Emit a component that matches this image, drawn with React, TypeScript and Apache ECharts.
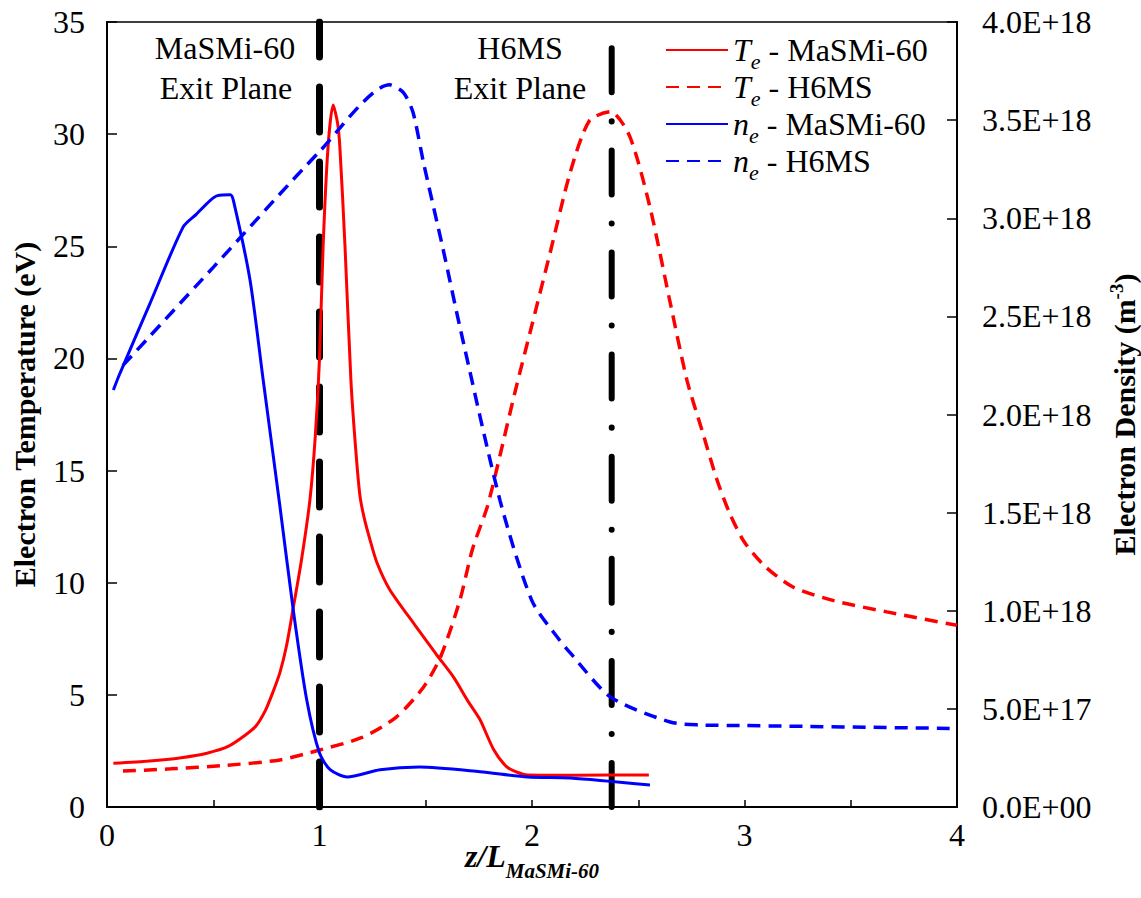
import React, { useEffect, useRef } from "react";
import * as echarts from "echarts";

// ---------- data ----------
const teMasmiX = [0.03, 0.2, 0.35, 0.47, 0.57, 0.65, 0.7, 0.745, 0.78, 0.814, 0.845, 0.875, 0.915, 0.955, 0.98, 1.0, 1.017, 1.04, 1.064, 1.085, 1.096, 1.12, 1.148, 1.17, 1.19, 1.21, 1.238, 1.27, 1.33, 1.45, 1.55, 1.63, 1.7, 1.755, 1.82, 1.88, 1.93, 1.98, 2.2, 2.55];
const teMasmiY = [1.95, 2.05, 2.2, 2.4, 2.7, 3.2, 3.6, 4.3, 5.1, 6.0, 7.2, 8.8, 11.0, 13.7, 16.5, 20.0, 25.0, 29.4, 31.3, 30.5, 29.4, 25.0, 19.0, 16.0, 13.9, 12.9, 11.9, 10.9, 9.7, 8.1, 6.8, 5.8, 4.7, 3.9, 2.55, 1.8, 1.55, 1.43, 1.42, 1.43];

const teH6msX = [0.075, 0.3, 0.55, 0.814, 1.0, 1.2, 1.36, 1.49, 1.57, 1.66, 1.72, 1.79, 1.85, 1.92, 2.0, 2.085, 2.18, 2.27, 2.37, 2.46, 2.555, 2.65, 2.73, 2.8, 2.87, 2.93, 3.0, 3.1, 3.23, 3.42, 3.67, 4.0];
const teH6msY = [1.6, 1.7, 1.85, 2.1, 2.54, 3.1, 4.0, 5.35, 6.7, 9.2, 11.5, 13.4, 15.7, 18.5, 21.5, 24.7, 28.3, 30.6, 31.0, 29.9, 26.75, 22.5, 19.0, 16.8, 14.6, 13.1, 11.8, 10.7, 9.8, 9.2, 8.7, 8.1];

const neMasmiX = [0.03, 0.061, 0.2, 0.358, 0.42, 0.485, 0.52, 0.58, 0.595, 0.673, 0.735, 0.814, 0.877, 0.94, 1.0, 1.05, 1.13, 1.285, 1.47, 1.755, 1.98, 2.18, 2.555];
const neMasmiY = [2.125e18, 2.21e18, 2.56e18, 2.955e18, 3.02e18, 3.09e18, 3.115e18, 3.12e18, 3.09e18, 2.685e18, 2.176e18, 1.53e18, 1.0e18, 0.545e18, 0.275e18, 0.19e18, 0.153e18, 0.19e18, 0.204e18, 0.18e18, 0.153e18, 0.148e18, 0.112e18];

const neH6msX = [0.075, 0.5, 1.0, 1.33, 1.395, 1.44, 1.49, 1.58, 1.66, 1.85, 2.0, 2.13, 2.18, 2.37, 2.65, 2.79, 3.0, 4.0];
const neH6msY = [2.25e18, 2.75e18, 3.34e18, 3.68e18, 3.64e18, 3.54e18, 3.28e18, 2.85e18, 2.45e18, 1.56e18, 1.05e18, 0.85e18, 0.785e18, 0.56e18, 0.433e18, 0.418e18, 0.415e18, 0.40e18];

const exitPlaneX = [1.0, 2.375];
const exitPlaneSpan = [0, 35];

const seriesNames = ["Te - MaSMi-60", "Te - H6MS", "ne - MaSMi-60", "ne - H6MS"];
const legendRich: Record<string, string> = {
  "Te - MaSMi-60": "{it|T}{sub|e}{n| - MaSMi-60}",
  "Te - H6MS": "{it|T}{sub|e}{n| - H6MS}",
  "ne - MaSMi-60": "{it|n}{sub|e}{n| - MaSMi-60}",
  "ne - H6MS": "{it|n}{sub|e}{n| - H6MS}",
};

const zip = (xs: number[], ys: number[]) => xs.map((x, i) => [x, ys[i]]);

const FONT = '"Liberation Serif", "Times New Roman", serif';

const fmtExp = (v: number) => {
  if (v === 0) return "0.0E+00";
  const [m, e] = v.toExponential(1).split("e");
  const n = parseInt(e, 10);
  return m + "E" + (n < 0 ? "-" : "+") + String(Math.abs(n)).padStart(2, "0");
};

export default function App() {
  const ref = useRef<HTMLDivElement>(null);
  useEffect(() => {
    if (!ref.current) return;
    const chart = echarts.init(ref.current, undefined, { renderer: "svg" });
    const dashed = [13, 8];
    const option: any = {
      animation: false,
      backgroundColor: "#fff",
      textStyle: { fontFamily: FONT, color: "#000" },
      grid: {
        left: 107, right: 184, top: 22, bottom: 91,
        outerBoundsMode: "none", containLabel: false,
        show: true, borderColor: "#000", borderWidth: 1.5, backgroundColor: "transparent",
      },
      legend: {
        data: seriesNames,
        orient: "vertical",
        left: 660,
        top: 29,
        itemWidth: 62,
        itemHeight: 14,
        itemGap: -1,
        itemStyle: { color: "rgba(0,0,0,0)", borderColor: "rgba(0,0,0,0)", borderWidth: 0 },
        formatter: (name: string) => legendRich[name],
        textStyle: {
          fontFamily: FONT,
          color: "#000",
          rich: {
            it: { fontFamily: FONT, fontStyle: "italic", fontSize: 32, lineHeight: 32 },
            sub: { fontFamily: FONT, fontStyle: "italic", fontSize: 22, lineHeight: 22, verticalAlign: "bottom", padding: [0, 0, -6, 0] },
            n: { fontFamily: FONT, fontSize: 32, lineHeight: 32 },
          },
        },
      },
      xAxis: {
        type: "value",
        min: 0,
        max: 4,
        interval: 1,
        name: "{a|z/L}{s|MaSMi-60}",
        nameLocation: "middle",
        nameGap: 32,
        nameMoveOverlap: false,
        nameTextStyle: {
          rich: {
            a: { fontFamily: FONT, fontStyle: "italic", fontWeight: "bold", fontSize: 32, lineHeight: 34 },
            s: { fontFamily: FONT, fontStyle: "italic", fontWeight: "bold", fontSize: 21, lineHeight: 21, verticalAlign: "bottom", padding: [0, 0, -8, 0] },
          },
        },
        axisLine: { lineStyle: { color: "#000", width: 2 } },
        axisTick: { inside: true, length: 7, lineStyle: { color: "#000", width: 1.5 } },
        minorTick: { show: true, splitNumber: 2, length: 7, lineStyle: { color: "#000", width: 1.5 } },
        axisLabel: { fontFamily: FONT, fontSize: 32, color: "#000", margin: 12 },
        splitLine: { show: false },
      },
      yAxis: [
        {
          type: "value",
          min: 0,
          max: 35,
          interval: 5,
          name: "Electron Temperature (eV)",
          nameLocation: "middle",
          nameRotate: 90,
          nameGap: 68,
          nameTextStyle: { fontFamily: FONT, fontWeight: "bold", fontSize: 30, color: "#000" },
          axisLine: { show: true, lineStyle: { color: "#000", width: 2 } },
          axisTick: { inside: true, length: 10, lineStyle: { color: "#000", width: 1.5 } },
          axisLabel: { fontFamily: FONT, fontSize: 32, color: "#000", margin: 22 },
          splitLine: { show: false },
        },
        {
          type: "value",
          position: "right",
          min: 0,
          max: 4e18,
          interval: 5e17,
          name: "{b|Electron Density (m}{sup|-3}{b|)}",
          nameLocation: "middle",
          nameRotate: 90,
          nameGap: 150,
          nameTextStyle: {
            rich: {
              b: { fontFamily: FONT, fontWeight: "bold", fontSize: 30, lineHeight: 34 },
              sup: { fontFamily: FONT, fontWeight: "bold", fontSize: 19, lineHeight: 19, verticalAlign: "top" },
            },
          },
          axisLine: { show: true, lineStyle: { color: "#000", width: 2 } },
          axisTick: { inside: true, length: 10, lineStyle: { color: "#000", width: 1.5 } },
          axisLabel: { fontFamily: FONT, fontSize: 32, color: "#000", margin: 25, formatter: fmtExp },
          splitLine: { show: false },
        },
      ],
      graphic: [
        { type: "text", x: 225, y: 48, style: { text: "MaSMi-60", font: `32px ${FONT}`, align: "center", verticalAlign: "middle", fill: "#000" } },
        { type: "text", x: 226, y: 88, style: { text: "Exit Plane", font: `32px ${FONT}`, align: "center", verticalAlign: "middle", fill: "#000" } },
        { type: "text", x: 520, y: 48, style: { text: "H6MS", font: `32px ${FONT}`, align: "center", verticalAlign: "middle", fill: "#000" } },
        { type: "text", x: 520, y: 88, style: { text: "Exit Plane", font: `32px ${FONT}`, align: "center", verticalAlign: "middle", fill: "#000" } },
      ],
      series: [
        {
          name: "exit1",
          type: "line",
          yAxisIndex: 0,
          data: exitPlaneSpan.map((y) => [exitPlaneX[0], y]),
          symbol: "none",
          silent: true,
          z: 1,
          lineStyle: { color: "#000", width: 7, type: [45, 30], cap: "round" },
        },
        {
          name: "exit2",
          type: "line",
          yAxisIndex: 0,
          data: exitPlaneSpan.map((y) => [exitPlaneX[1], y]),
          symbol: "none",
          silent: true,
          z: 1,
          lineStyle: { color: "#000", width: 6, type: [44, 29, 0.1, 29], cap: "round" },
        },
        {
          name: seriesNames[0],
          type: "line",
          yAxisIndex: 0,
          data: zip(teMasmiX, teMasmiY),
          symbol: "none",
          smooth: 0.25,
          z: 3,
          color: "#ff0000",
          lineStyle: { color: "#ff0000", width: 3, type: "solid" },
        },
        {
          name: seriesNames[1],
          type: "line",
          yAxisIndex: 0,
          data: zip(teH6msX, teH6msY),
          symbol: "none",
          smooth: 0.25,
          z: 3,
          color: "#ff0000",
          lineStyle: { color: "#ff0000", width: 3.5, type: dashed },
        },
        {
          name: seriesNames[2],
          type: "line",
          yAxisIndex: 1,
          data: zip(neMasmiX, neMasmiY),
          symbol: "none",
          smooth: 0.25,
          z: 3,
          color: "#0000ff",
          lineStyle: { color: "#0000ff", width: 3, type: "solid" },
        },
        {
          name: seriesNames[3],
          type: "line",
          yAxisIndex: 1,
          data: zip(neH6msX, neH6msY),
          symbol: "none",
          smooth: 0.25,
          z: 3,
          color: "#0000ff",
          lineStyle: { color: "#0000ff", width: 3.5, type: dashed },
        },
      ],
    };
    chart.setOption(option);
    return () => chart.dispose();
  }, []);
  return (
    <div
      ref={ref}
      style={{ position: "fixed", left: 0, top: 0, width: 1141, height: 898, background: "#fff" }}
    />
  );
}
